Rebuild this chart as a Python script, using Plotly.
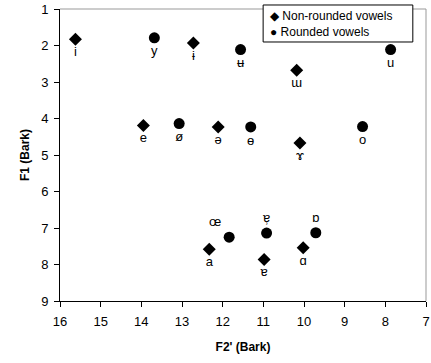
import plotly.graph_objects as go

# Non-rounded vowels
nr_labels = ["i", "ɨ", "ɯ", "e", "ə", "ɤ", "a", "ɐ", "ɑ"]
nr_f2 = [15.62, 12.72, 10.18, 13.95, 12.11, 10.10, 12.33, 10.98, 10.02]
nr_f1 = [1.83, 1.93, 2.68, 4.19, 4.23, 4.67, 7.58, 7.86, 7.54]
nr_pos = ["bottom center"] * 9

# Rounded vowels
r_labels = ["y", "ʉ", "u", "ø", "ɵ", "o", "œ", "ɐ̹", "ɒ"]
r_f2 = [13.68, 11.56, 7.87, 13.07, 11.31, 8.56, 11.84, 10.92, 9.71]
r_f1 = [1.79, 2.11, 2.11, 4.14, 4.23, 4.22, 7.25, 7.14, 7.13]
r_pos = ["bottom center"] * 6 + ["top left", "top center", "top center"]

series_names = ["Non-rounded vowels", "Rounded vowels"]

font_family = "Liberation Sans, Arial, sans-serif"

fig = go.Figure()
fig.add_trace(go.Scatter(
    x=nr_f2, y=nr_f1, mode="markers+text", name=series_names[0],
    text=nr_labels, textposition=nr_pos,
    textfont=dict(size=13, color="black", family=font_family),
    marker=dict(symbol="diamond", size=10, color="black"),
    showlegend=False,
))
fig.add_trace(go.Scatter(
    x=r_f2, y=r_f1, mode="markers+text", name=series_names[1],
    text=r_labels, textposition=r_pos,
    textfont=dict(size=13, color="black", family=font_family),
    marker=dict(symbol="circle", size=11, color="black"),
    showlegend=False,
))

# manual legend box (paper coordinates)
lx0, lx1, ly0, ly1 = 0.555, 0.964, 0.887, 1.0137
legend_ys = [0.975, 0.922]
legend_syms = ["◆", "●"]
annotations = []
for sym, name, yy in zip(legend_syms, series_names, legend_ys):
    annotations.append(dict(
        xref="paper", yref="paper", x=lx0 + 0.012, y=yy, xanchor="left", yanchor="middle",
        text=sym + " " + name, showarrow=False,
        font=dict(size=12, family=font_family, color="black"),
    ))

fig.update_layout(
    width=431, height=363,
    margin=dict(l=60, r=5, t=9, b=62, autoexpand=False),
    plot_bgcolor="white", paper_bgcolor="white",
    font=dict(family=font_family, size=12, color="black"),
    showlegend=False,
    xaxis=dict(
        range=[16, 7], dtick=1, tick0=7,
        showgrid=False, zeroline=False, automargin=False,
        ticks="outside", ticklen=5, tickcolor="black", ticklabelstandoff=3,
        showline=True, linecolor="black", linewidth=1, mirror=False,
        title=dict(text="<b>F2' (Bark)</b>", font=dict(size=12), standoff=15),
        tickfont=dict(size=13),
    ),
    yaxis=dict(
        range=[9, 1], dtick=1,
        showgrid=False, zeroline=False, automargin=False,
        ticks="outside", ticklen=5, tickcolor="black", ticklabelstandoff=3,
        showline=True, linecolor="black", linewidth=1,
        title=dict(text="<b>F1 (Bark)</b>", font=dict(size=12), standoff=8),
        tickfont=dict(size=13),
    ),
    shapes=[
        dict(type="line", xref="paper", yref="paper", x0=0, x1=1, y0=1, y1=1,
             line=dict(color="#999999", width=1)),
        dict(type="line", xref="paper", yref="paper", x0=1, x1=1, y0=0, y1=1,
             line=dict(color="#999999", width=1)),
        dict(type="rect", xref="paper", yref="paper", x0=lx0, x1=lx1, y0=ly0, y1=ly1,
             fillcolor="white", line=dict(color="black", width=1), layer="above"),
    ],
    annotations=annotations,
)

fig.write_html("out.html", config={"displayModeBar": False},
               post_script="document.body.style.margin='0';")
